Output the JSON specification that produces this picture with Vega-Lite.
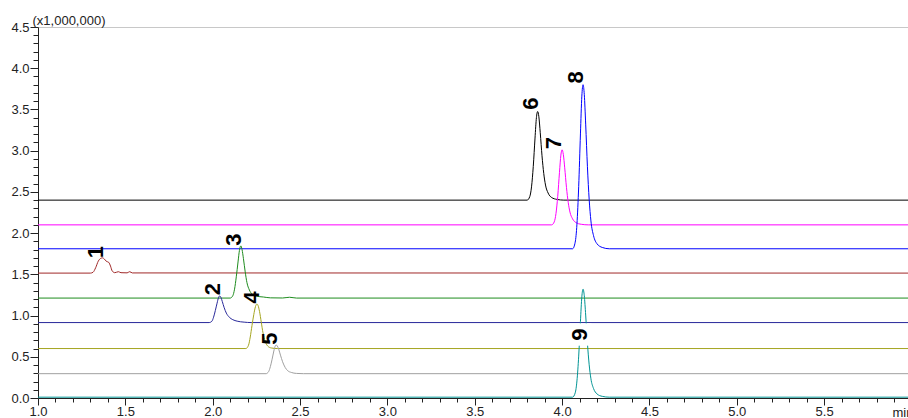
{
  "$schema": "https://vega.github.io/schema/vega-lite/v6.json",
  "autosize": {"type": "none"},
  "width": 870,
  "height": 371,
  "padding": {"left": 38, "top": 27, "right": 0, "bottom": 20},
  "background": "white",
  "config": {"view": {"stroke": null}, "font": "Liberation Sans"},
  "datasets": {
    "traces": [
      {"peak": "6", "t": 1.0, "v": 2.40}, {"peak": "6", "t": 3.80, "v": 2.40}, {"peak": "6", "t": 3.815, "v": 2.443}, {"peak": "6", "t": 3.825, "v": 2.561}, {"peak": "6", "t": 3.835, "v": 2.809}, {"peak": "6", "t": 3.845, "v": 3.153}, {"peak": "6", "t": 3.853, "v": 3.40}, {"peak": "6", "t": 3.86, "v": 3.475}, {"peak": "6", "t": 3.867, "v": 3.411}, {"peak": "6", "t": 3.875, "v": 3.217}, {"peak": "6", "t": 3.885, "v": 2.938}, {"peak": "6", "t": 3.895, "v": 2.723}, {"peak": "6", "t": 3.905, "v": 2.583}, {"peak": "6", "t": 3.92, "v": 2.486}, {"peak": "6", "t": 3.94, "v": 2.432}, {"peak": "6", "t": 3.97, "v": 2.409}, {"peak": "6", "t": 4.01, "v": 2.40}, {"peak": "6", "t": 5.98, "v": 2.40},
      {"peak": "7", "t": 1.0, "v": 2.10}, {"peak": "7", "t": 3.94, "v": 2.10}, {"peak": "7", "t": 3.955, "v": 2.136}, {"peak": "7", "t": 3.965, "v": 2.237}, {"peak": "7", "t": 3.975, "v": 2.446}, {"peak": "7", "t": 3.985, "v": 2.737}, {"peak": "7", "t": 3.993, "v": 2.946}, {"peak": "7", "t": 4.0, "v": 3.01}, {"peak": "7", "t": 4.007, "v": 2.955}, {"peak": "7", "t": 4.015, "v": 2.792}, {"peak": "7", "t": 4.025, "v": 2.555}, {"peak": "7", "t": 4.035, "v": 2.373}, {"peak": "7", "t": 4.045, "v": 2.255}, {"peak": "7", "t": 4.06, "v": 2.173}, {"peak": "7", "t": 4.08, "v": 2.127}, {"peak": "7", "t": 4.11, "v": 2.107}, {"peak": "7", "t": 4.15, "v": 2.10}, {"peak": "7", "t": 5.98, "v": 2.10},
      {"peak": "8", "t": 1.0, "v": 1.81}, {"peak": "8", "t": 4.06, "v": 1.81}, {"peak": "8", "t": 4.075, "v": 1.89}, {"peak": "8", "t": 4.085, "v": 2.109}, {"peak": "8", "t": 4.095, "v": 2.566}, {"peak": "8", "t": 4.105, "v": 3.203}, {"peak": "8", "t": 4.113, "v": 3.661}, {"peak": "8", "t": 4.12, "v": 3.80}, {"peak": "8", "t": 4.127, "v": 3.681}, {"peak": "8", "t": 4.135, "v": 3.322}, {"peak": "8", "t": 4.145, "v": 2.805}, {"peak": "8", "t": 4.155, "v": 2.407}, {"peak": "8", "t": 4.165, "v": 2.148}, {"peak": "8", "t": 4.18, "v": 1.969}, {"peak": "8", "t": 4.20, "v": 1.87}, {"peak": "8", "t": 4.23, "v": 1.826}, {"peak": "8", "t": 4.27, "v": 1.81}, {"peak": "8", "t": 5.98, "v": 1.81},
      {"peak": "1", "t": 1.0, "v": 1.515}, {"peak": "1", "t": 1.30, "v": 1.515}, {"peak": "1", "t": 1.315, "v": 1.525}, {"peak": "1", "t": 1.33, "v": 1.58}, {"peak": "1", "t": 1.345, "v": 1.66}, {"peak": "1", "t": 1.36, "v": 1.695}, {"peak": "1", "t": 1.37, "v": 1.70}, {"peak": "1", "t": 1.38, "v": 1.685}, {"peak": "1", "t": 1.39, "v": 1.66}, {"peak": "1", "t": 1.405, "v": 1.645}, {"peak": "1", "t": 1.415, "v": 1.60}, {"peak": "1", "t": 1.425, "v": 1.54}, {"peak": "1", "t": 1.44, "v": 1.52}, {"peak": "1", "t": 1.46, "v": 1.532}, {"peak": "1", "t": 1.475, "v": 1.52}, {"peak": "1", "t": 1.51, "v": 1.518}, {"peak": "1", "t": 1.525, "v": 1.532}, {"peak": "1", "t": 1.54, "v": 1.517}, {"peak": "1", "t": 5.98, "v": 1.515},
      {"peak": "3", "t": 1.0, "v": 1.212}, {"peak": "3", "t": 2.10, "v": 1.212}, {"peak": "3", "t": 2.115, "v": 1.24}, {"peak": "3", "t": 2.125, "v": 1.32}, {"peak": "3", "t": 2.135, "v": 1.47}, {"peak": "3", "t": 2.145, "v": 1.65}, {"peak": "3", "t": 2.153, "v": 1.79}, {"peak": "3", "t": 2.161, "v": 1.845}, {"peak": "3", "t": 2.168, "v": 1.80}, {"peak": "3", "t": 2.176, "v": 1.69}, {"peak": "3", "t": 2.186, "v": 1.53}, {"peak": "3", "t": 2.196, "v": 1.40}, {"peak": "3", "t": 2.21, "v": 1.31}, {"peak": "3", "t": 2.225, "v": 1.26}, {"peak": "3", "t": 2.25, "v": 1.235}, {"peak": "3", "t": 2.29, "v": 1.225}, {"peak": "3", "t": 2.33, "v": 1.215}, {"peak": "3", "t": 2.40, "v": 1.213}, {"peak": "3", "t": 2.44, "v": 1.222}, {"peak": "3", "t": 2.48, "v": 1.212}, {"peak": "3", "t": 5.98, "v": 1.212},
      {"peak": "2", "t": 1.0, "v": 0.915}, {"peak": "2", "t": 1.98, "v": 0.915}, {"peak": "2", "t": 1.995, "v": 0.93}, {"peak": "2", "t": 2.005, "v": 0.98}, {"peak": "2", "t": 2.015, "v": 1.06}, {"peak": "2", "t": 2.025, "v": 1.15}, {"peak": "2", "t": 2.033, "v": 1.215}, {"peak": "2", "t": 2.04, "v": 1.238}, {"peak": "2", "t": 2.047, "v": 1.22}, {"peak": "2", "t": 2.055, "v": 1.17}, {"peak": "2", "t": 2.065, "v": 1.10}, {"peak": "2", "t": 2.078, "v": 1.03}, {"peak": "2", "t": 2.095, "v": 0.98}, {"peak": "2", "t": 2.115, "v": 0.95}, {"peak": "2", "t": 2.14, "v": 0.932}, {"peak": "2", "t": 2.18, "v": 0.92}, {"peak": "2", "t": 2.22, "v": 0.915}, {"peak": "2", "t": 5.98, "v": 0.915},
      {"peak": "4", "t": 1.0, "v": 0.60}, {"peak": "4", "t": 2.19, "v": 0.60}, {"peak": "4", "t": 2.205, "v": 0.64}, {"peak": "4", "t": 2.215, "v": 0.74}, {"peak": "4", "t": 2.225, "v": 0.88}, {"peak": "4", "t": 2.235, "v": 1.01}, {"peak": "4", "t": 2.245, "v": 1.11}, {"peak": "4", "t": 2.253, "v": 1.14}, {"peak": "4", "t": 2.26, "v": 1.12}, {"peak": "4", "t": 2.268, "v": 1.05}, {"peak": "4", "t": 2.278, "v": 0.92}, {"peak": "4", "t": 2.288, "v": 0.79}, {"peak": "4", "t": 2.30, "v": 0.69}, {"peak": "4", "t": 2.315, "v": 0.63}, {"peak": "4", "t": 2.335, "v": 0.607}, {"peak": "4", "t": 2.37, "v": 0.60}, {"peak": "4", "t": 5.98, "v": 0.60},
      {"peak": "5", "t": 1.0, "v": 0.295}, {"peak": "5", "t": 2.305, "v": 0.295}, {"peak": "5", "t": 2.32, "v": 0.32}, {"peak": "5", "t": 2.33, "v": 0.38}, {"peak": "5", "t": 2.34, "v": 0.47}, {"peak": "5", "t": 2.35, "v": 0.57}, {"peak": "5", "t": 2.357, "v": 0.625}, {"peak": "5", "t": 2.363, "v": 0.643}, {"peak": "5", "t": 2.37, "v": 0.63}, {"peak": "5", "t": 2.378, "v": 0.59}, {"peak": "5", "t": 2.388, "v": 0.52}, {"peak": "5", "t": 2.40, "v": 0.44}, {"peak": "5", "t": 2.415, "v": 0.37}, {"peak": "5", "t": 2.43, "v": 0.33}, {"peak": "5", "t": 2.45, "v": 0.31}, {"peak": "5", "t": 2.48, "v": 0.298}, {"peak": "5", "t": 2.52, "v": 0.295}, {"peak": "5", "t": 5.98, "v": 0.295},
      {"peak": "9", "t": 1.0, "v": 0.01}, {"peak": "9", "t": 4.06, "v": 0.01}, {"peak": "9", "t": 4.075, "v": 0.062}, {"peak": "9", "t": 4.085, "v": 0.207}, {"peak": "9", "t": 4.095, "v": 0.508}, {"peak": "9", "t": 4.105, "v": 0.927}, {"peak": "9", "t": 4.113, "v": 1.228}, {"peak": "9", "t": 4.12, "v": 1.32}, {"peak": "9", "t": 4.127, "v": 1.241}, {"peak": "9", "t": 4.135, "v": 1.006}, {"peak": "9", "t": 4.145, "v": 0.665}, {"peak": "9", "t": 4.155, "v": 0.403}, {"peak": "9", "t": 4.165, "v": 0.233}, {"peak": "9", "t": 4.18, "v": 0.115}, {"peak": "9", "t": 4.20, "v": 0.049}, {"peak": "9", "t": 4.23, "v": 0.02}, {"peak": "9", "t": 4.27, "v": 0.01}, {"peak": "9", "t": 5.98, "v": 0.01}
    ],
    "labels": [
      {"label": "1", "t": 1.332, "v": 1.77},
      {"label": "2", "t": 2.002, "v": 1.32},
      {"label": "3", "t": 2.123, "v": 1.92},
      {"label": "4", "t": 2.226, "v": 1.22},
      {"label": "5", "t": 2.329, "v": 0.72},
      {"label": "6", "t": 3.824, "v": 3.57},
      {"label": "7", "t": 3.955, "v": 3.09},
      {"label": "8", "t": 4.081, "v": 3.89},
      {"label": "9", "t": 4.104, "v": 0.77}
    ]
  },
  "layer": [
    {
      "data": {"name": "traces"},
      "mark": {"type": "line", "strokeWidth": 1, "interpolate": "monotone", "clip": true},
      "encoding": {
        "x": {
          "field": "t", "type": "quantitative",
          "scale": {"domain": [1, 5.98], "nice": false, "zero": false},
          "axis": {
            "values": [1.0,1.1,1.2,1.3,1.4,1.5,1.6,1.7,1.8,1.9,2.0,2.1,2.2,2.3,2.4,2.5,2.6,2.7,2.8,2.9,3.0,3.1,3.2,3.3,3.4,3.5,3.6,3.7,3.8,3.9,4.0,4.1,4.2,4.3,4.4,4.5,4.6,4.7,4.8,4.9,5.0,5.1,5.2,5.3,5.4,5.5,5.6,5.7,5.8,5.9],
            "tickCount": 200,
            "labelExpr": "abs(datum.value*2 - round(datum.value*2)) < 0.01 ? format(datum.value, '.1f') : ''",
            "labelOverlap": false,
            "labelFlush": false,
            "labelFontSize": 13,
            "labelColor": "#222",
            "labelPadding": 0,
            "tickSize": {"condition": {"test": "abs(datum.value*2 - round(datum.value*2)) < 0.01", "value": 7}, "value": 4},
            "tickColor": "#222",
            "domainColor": "#222",
            "grid": false,
            "title": "min",
            "titleFontSize": 13,
            "titleFontWeight": "normal",
            "titleColor": "#222",
            "titleAlign": "left",
            "titleBaseline": "alphabetic",
            "titleX": 854,
            "titleY": 18
          }
        },
        "y": {
          "field": "v", "type": "quantitative",
          "scale": {"domain": [0, 4.5], "nice": false},
          "axis": {
            "values": [0,0.1,0.2,0.3,0.4,0.5,0.6,0.7,0.8,0.9,1.0,1.1,1.2,1.3,1.4,1.5,1.6,1.7,1.8,1.9,2.0,2.1,2.2,2.3,2.4,2.5,2.6,2.7,2.8,2.9,3.0,3.1,3.2,3.3,3.4,3.5,3.6,3.7,3.8,3.9,4.0,4.1,4.2,4.3,4.4,4.5],
            "tickCount": 200,
            "labelExpr": "abs(datum.value*2 - round(datum.value*2)) < 0.01 ? format(datum.value, '.1f') : ''",
            "labelOverlap": false,
            "labelFlush": false,
            "labelFontSize": 13,
            "labelColor": "#222",
            "labelPadding": 1,
            "tickSize": {"condition": {"test": "abs(datum.value*2 - round(datum.value*2)) < 0.01", "value": 8}, "value": 5},
            "tickColor": "#222",
            "domainColor": "#222",
            "grid": true,
            "gridColor": "#c8c8c8",
            "gridOpacity": {"condition": {"test": "datum.value > 4.49", "value": 1}, "value": 0},
            "title": "(x1,000,000)",
            "titleAngle": 0,
            "titleFontSize": 13,
            "titleFontWeight": "normal",
            "titleColor": "#222",
            "titleAlign": "left",
            "titleBaseline": "alphabetic",
            "titleX": -6,
            "titleY": -3
          }
        },
        "color": {
          "field": "peak", "type": "nominal", "legend": null,
          "scale": {
            "domain": ["6", "7", "8", "1", "3", "2", "4", "5", "9"],
            "range": ["#000000", "#ff00ff", "#0000ff", "#a02828", "#1e8c1e", "#28289a", "#a5a520", "#a0a0a0", "#009494"]
          }
        }
      }
    },
    {
      "data": {"name": "labels"},
      "transform": [{"filter": "datum.label == '9'"}],
      "mark": {"type": "point", "shape": "square", "filled": true, "color": "white", "opacity": 1, "size": 500},
      "encoding": {
        "x": {"field": "t", "type": "quantitative"},
        "y": {"field": "v", "type": "quantitative"}
      }
    },
    {
      "data": {"name": "labels"},
      "mark": {"type": "text", "angle": 270, "align": "center", "baseline": "middle", "font": "Liberation Sans", "fontWeight": "bold", "fontSize": 22, "color": "black"},
      "encoding": {
        "x": {"field": "t", "type": "quantitative"},
        "y": {"field": "v", "type": "quantitative"},
        "text": {"field": "label", "type": "nominal"}
      }
    }
  ]
}
